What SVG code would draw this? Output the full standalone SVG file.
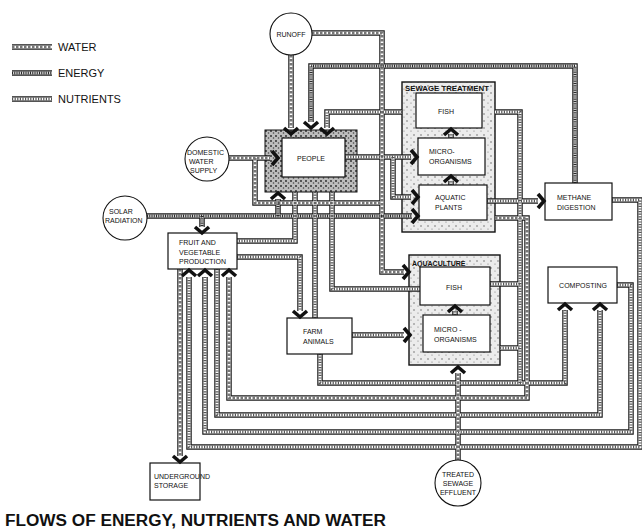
<svg xmlns="http://www.w3.org/2000/svg" width="642" height="530" viewBox="0 0 642 530">
<style>
.o{fill:none;stroke:#1b1b1b;stroke-width:5.5;stroke-linejoin:miter}
.i{fill:none;stroke:#fff;stroke-width:3.2}
.w{fill:none;stroke:#777;stroke-width:3.2;stroke-dasharray:2.5 1.5}
.e{fill:none;stroke:#2a2a2a;stroke-width:3.2;stroke-dasharray:1 0.8}
.n{fill:none;stroke:#555;stroke-width:3.2;stroke-dasharray:1.2 1.4}
.box{fill:#fff;stroke:#111;stroke-width:1.2}
.circ{fill:#fff;stroke:#111;stroke-width:1.1}
.t{font-family:"Liberation Sans",Arial,sans-serif;font-size:7px;fill:#111}
.m{text-anchor:middle}
.tl{font-family:"Liberation Sans",Arial,sans-serif;font-size:11px;fill:#111}
.ttl{font-family:"Liberation Sans",Arial,sans-serif;font-size:17.2px;font-weight:bold;fill:#111}
.ah{fill:none;stroke:#111;stroke-width:3.6;stroke-linejoin:miter}
</style>
<defs>
<pattern id="stipD" width="5" height="5" patternUnits="userSpaceOnUse">
<rect width="5" height="5" fill="#bdbdbd"/><circle cx="1" cy="1" r="0.9" fill="#222"/><circle cx="3.5" cy="3" r="0.8" fill="#444"/></pattern>
<pattern id="stipL" width="7" height="7" patternUnits="userSpaceOnUse">
<rect width="7" height="7" fill="#ececec"/><circle cx="1" cy="2" r="0.7" fill="#555"/><circle cx="5" cy="5" r="0.6" fill="#777"/></pattern>
<path id="chev" d="M-6,-7 L0,0 L-6,7"/>
<path id="lw" d="M12,47 H52"/>
<path id="le" d="M12,73 H52"/>
<path id="ln" d="M12,99 H52"/>
<path id="c1" d="M291,55 V128"/>
<path id="c2" d="M312,33 H382 V272 H404"/>
<path id="c3" d="M575,183 V66 H311 V122"/>
<path id="c4a" d="M520,383 V112 H495"/>
<path id="c4b" d="M402,112 H327 V128"/>
<path id="c5" d="M229,158 H270"/>
<path id="c6" d="M255,158 V203 H382"/>
<path id="c7" d="M147,216 H412"/>
<path id="c7a" d="M202,216 V227"/>
<path id="c7b" d="M278,216 V199"/>
<path id="c8" d="M345,157 H411"/>
<path id="c9" d="M393,157 V197 H411"/>
<path id="c10" d="M295,192 V241 H237"/>
<path id="c11" d="M237,257 H300 V311"/>
<path id="c12" d="M315,192 V318"/>
<path id="c13" d="M332,192 V289 H420"/>
<path id="c14" d="M352,335 H404"/>
<path id="c15" d="M320,354 V383 H565 V310"/>
<path id="c16a" d="M451,138 V134"/>
<path id="c16b" d="M451,185 V181"/>
<path id="c16c" d="M455,315 V311"/>
<path id="c17" d="M487,201 H538"/>
<path id="c18" d="M612,200 H640 V447 H189 V277"/>
<path id="c19" d="M617,285 H631 V432 H205 V277"/>
<path id="c20" d="M217,269 V415 H600 V310"/>
<path id="c21" d="M495,218 H527 V398 H229 V277"/>
<path id="c22" d="M180,269 V456"/>
<path id="c23" d="M458,460 V373"/>
<path id="c24" d="M490,284 H520"/>
<path id="c25" d="M500,348 H520"/>
</defs>
<rect width="642" height="530" fill="#fff"/>

<g id="legend">
<use href="#lw" class="o"/><use href="#lw" class="i"/><use href="#lw" class="w"/>
<use href="#le" class="o"/><use href="#le" class="i"/><use href="#le" class="e"/>
<use href="#ln" class="o"/><use href="#ln" class="i"/><use href="#ln" class="n"/>
<text class="tl" x="58" y="51">WATER</text>
<text class="tl" x="58" y="77">ENERGY</text>
<text class="tl" x="58" y="103">NUTRIENTS</text>
</g>

<g id="frames">
<rect id="people-zone" x="265" y="130" width="92" height="62" fill="url(#stipD)" stroke="#111" stroke-width="1"/>
<rect id="sewage-frame" x="402" y="82" width="93" height="150" fill="url(#stipL)" stroke="#111" stroke-width="1.4"/>
<rect id="aqua-frame" x="409" y="255" width="91" height="110" fill="url(#stipL)" stroke="#111" stroke-width="1.4"/>
</g>

<g id="connectors">
<g id="outer">
<use href="#c1" class="o"/><use href="#c2" class="o"/><use href="#c3" class="o"/><use href="#c4a" class="o"/><use href="#c4b" class="o"/>
<use href="#c5" class="o"/><use href="#c6" class="o"/><use href="#c7" class="o"/><use href="#c7a" class="o"/><use href="#c7b" class="o"/>
<use href="#c8" class="o"/><use href="#c9" class="o"/><use href="#c10" class="o"/><use href="#c11" class="o"/><use href="#c12" class="o"/>
<use href="#c13" class="o"/><use href="#c14" class="o"/><use href="#c15" class="o"/><use href="#c16a" class="o"/><use href="#c16b" class="o"/>
<use href="#c16c" class="o"/><use href="#c17" class="o"/><use href="#c18" class="o"/><use href="#c19" class="o"/><use href="#c20" class="o"/>
<use href="#c21" class="o"/><use href="#c22" class="o"/><use href="#c23" class="o"/><use href="#c24" class="o"/><use href="#c25" class="o"/>
</g>
<g id="inner">
<use href="#c1" class="i"/><use href="#c2" class="i"/><use href="#c3" class="i"/><use href="#c4a" class="i"/><use href="#c4b" class="i"/>
<use href="#c5" class="i"/><use href="#c6" class="i"/><use href="#c7" class="i"/><use href="#c7a" class="i"/><use href="#c7b" class="i"/>
<use href="#c8" class="i"/><use href="#c9" class="i"/><use href="#c10" class="i"/><use href="#c11" class="i"/><use href="#c12" class="i"/>
<use href="#c13" class="i"/><use href="#c14" class="i"/><use href="#c15" class="i"/><use href="#c16a" class="i"/><use href="#c16b" class="i"/>
<use href="#c16c" class="i"/><use href="#c17" class="i"/><use href="#c18" class="i"/><use href="#c19" class="i"/><use href="#c20" class="i"/>
<use href="#c21" class="i"/><use href="#c22" class="i"/><use href="#c23" class="i"/><use href="#c24" class="i"/><use href="#c25" class="i"/>
</g>
<g id="texture">
<use href="#c1" class="w"/><use href="#c2" class="w"/><use href="#c3" class="e"/><use href="#c4a" class="n"/><use href="#c4b" class="n"/>
<use href="#c5" class="w"/><use href="#c6" class="w"/><use href="#c7" class="e"/><use href="#c7a" class="e"/><use href="#c7b" class="e"/>
<use href="#c8" class="n"/><use href="#c9" class="n"/><use href="#c10" class="n"/><use href="#c11" class="n"/><use href="#c12" class="n"/>
<use href="#c13" class="n"/><use href="#c14" class="n"/><use href="#c15" class="n"/><use href="#c16a" class="n"/><use href="#c16b" class="n"/>
<use href="#c16c" class="n"/><use href="#c17" class="n"/><use href="#c18" class="n"/><use href="#c19" class="n"/><use href="#c20" class="n"/>
<use href="#c21" class="w"/><use href="#c22" class="w"/><use href="#c23" class="w"/><use href="#c24" class="n"/><use href="#c25" class="n"/>
</g>
</g>

<g id="runoff"><circle class="circ" cx="291" cy="34" r="21"/><text class="t m" x="291" y="37">RUNOFF</text></g>
<g id="domestic-water-supply"><circle class="circ" cx="207" cy="159" r="22"/>
<text class="t" x="187" y="155">DOMESTIC</text><text class="t" x="189" y="164">WATER</text><text class="t" x="190" y="173">SUPPLY</text></g>
<g id="solar-radiation"><circle class="circ" cx="125" cy="218" r="22"/>
<text class="t" x="109" y="214">SOLAR</text><text class="t" x="105" y="223">RADIATION</text></g>
<g id="people"><rect class="box" x="282" y="138" width="63" height="39"/><text class="t m" x="311" y="161">PEOPLE</text></g>
<g id="sewage-treatment"><text class="t" x="405" y="91" font-weight="bold" textLength="84" lengthAdjust="spacingAndGlyphs">SEWAGE TREATMENT</text></g>
<g id="sewage-fish"><rect class="box" x="416" y="93" width="66" height="35"/><text class="t m" x="446" y="114">FISH</text></g>
<g id="sewage-micro"><rect class="box" x="418" y="138" width="67" height="37"/><text class="t" x="429" y="154">MICRO-</text><text class="t" x="429" y="164">ORGANISMS</text></g>
<g id="aquatic-plants"><rect class="box" x="419" y="185" width="68" height="35"/><text class="t" x="435" y="200">AQUATIC</text><text class="t" x="435" y="210">PLANTS</text></g>
<g id="methane-digestion"><rect class="box" x="545" y="183" width="67" height="37"/><text class="t" x="557" y="200">METHANE</text><text class="t" x="557" y="210">DIGESTION</text></g>
<g id="fruit-vegetable-production"><rect class="box" x="168" y="233" width="69" height="36"/>
<text class="t" x="179" y="245">FRUIT AND</text><text class="t" x="179" y="255">VEGETABLE</text><text class="t" x="179" y="264">PRODUCTION</text></g>
<g id="farm-animals"><rect class="box" x="287" y="318" width="65" height="36"/><text class="t" x="303" y="334">FARM</text><text class="t" x="303" y="344">ANIMALS</text></g>
<g id="aquaculture"><text class="t" x="412" y="266" font-weight="bold">AQUACULTURE</text></g>
<g id="aqua-fish"><rect class="box" x="420" y="267" width="70" height="38"/><text class="t m" x="454" y="290">FISH</text></g>
<g id="aqua-micro"><rect class="box" x="423" y="315" width="67" height="37"/><text class="t" x="434" y="332">MICRO -</text><text class="t" x="434" y="342">ORGANISMS</text></g>
<g id="composting"><rect class="box" x="548" y="267" width="69" height="36"/><text class="t m" x="583" y="288">COMPOSTING</text></g>
<g id="underground-storage"><rect class="box" x="150" y="463" width="50" height="37"/>
<text class="t" x="154" y="479" font-size="5.8">UNDERGROUND</text><text class="t" x="154" y="488" font-size="5.8">STORAGE</text></g>
<g id="treated-sewage-effluent"><circle class="circ" cx="458" cy="483" r="23"/>
<text class="t m" x="458" y="477">TREATED</text><text class="t m" x="458" y="486">SEWAGE</text><text class="t m" x="458" y="495">EFFLUENT</text></g>

<g id="arrowheads" class="ah">
<use href="#chev" transform="translate(291,134) rotate(90)"/>
<use href="#chev" transform="translate(409,272)"/>
<use href="#chev" transform="translate(311,128) rotate(90)"/>
<use href="#chev" transform="translate(327,134) rotate(90)"/>
<use href="#chev" transform="translate(278,158)"/>
<use href="#chev" transform="translate(418,216)"/>
<use href="#chev" transform="translate(202,233) rotate(90)"/>
<use href="#chev" transform="translate(278,193) rotate(-90)"/>
<use href="#chev" transform="translate(417,157)"/>
<use href="#chev" transform="translate(418,197)"/>
<use href="#chev" transform="translate(300,317) rotate(90)"/>
<use href="#chev" transform="translate(410,335)"/>
<use href="#chev" transform="translate(565,304) rotate(-90)"/>
<use href="#chev" transform="translate(451,129) rotate(-90)"/>
<use href="#chev" transform="translate(451,176) rotate(-90)"/>
<use href="#chev" transform="translate(455,306) rotate(-90)"/>
<use href="#chev" transform="translate(544,201)"/>
<use href="#chev" transform="translate(189,270) rotate(-90)"/>
<use href="#chev" transform="translate(205,270) rotate(-90)"/>
<use href="#chev" transform="translate(600,304) rotate(-90)"/>
<use href="#chev" transform="translate(229,270) rotate(-90)"/>
<use href="#chev" transform="translate(180,462) rotate(90)"/>
<use href="#chev" transform="translate(458,367) rotate(-90)"/>
</g>

<text class="ttl" x="5" y="526">FLOWS OF ENERGY, NUTRIENTS AND WATER</text>
</svg>
